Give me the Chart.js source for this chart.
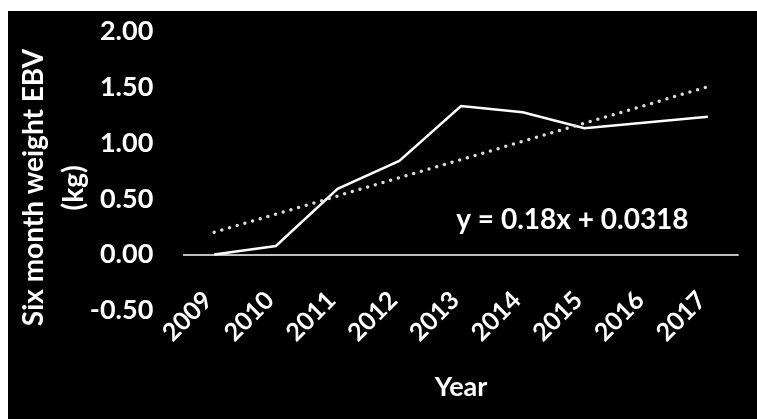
<!DOCTYPE html>
<html>
<head>
<meta charset="utf-8">
<title>Six month weight EBV by year</title>
<script src="https://cdn.jsdelivr.net/npm/chart.js@4.4.1/dist/chart.umd.min.js"></script>
<style>
  html, body { margin: 0; padding: 0; background: #ffffff; }
  #wrap { position: absolute; left: 8px; top: 11px; width: 749px; height: 408px; background: #000000; }
  canvas { display: block; }
</style>
</head>
<body>
<div id="wrap"><canvas id="chart" width="749" height="408"></canvas></div>
<script>
// Breeding values by year
const years = ['2009', '2010', '2011', '2012', '2013', '2014', '2015', '2016', '2017'];
const ebv = [0.00, 0.076, 0.59, 0.84, 1.333, 1.276, 1.133, 1.185, 1.237];

// Axis settings and text
const yMin = -0.5;
const yMax = 2.0;
const yStep = 0.5;
const xTitle = 'Year';
const yTitle = ['Six month weight EBV', '(kg)'];
const equationLabel = 'y = 0.18x + 0.0318';

// Linear least-squares trend of the EBV series (x = 1..n, as in a spreadsheet trendline)
function linearTrend(values) {
  const n = values.length;
  let sx = 0, sy = 0, sxy = 0, sxx = 0;
  values.forEach((v, i) => {
    const x = i + 1;
    sx += x; sy += v; sxy += x * v; sxx += x * x;
  });
  const slope = (n * sxy - sx * sy) / (n * sxx - sx * sx);
  const intercept = (sy - slope * sx) / n;
  return values.map((_, i) => intercept + slope * (i + 1));
}
const trend = linearTrend(ebv);

const FONT = 'Lato';
Chart.defaults.font.family = FONT;
Chart.defaults.font.weight = 'bold';
Chart.defaults.color = '#ffffff';

// Trendline equation text
const equationPlugin = {
  id: 'equationText',
  afterDatasetsDraw(chart) {
    const { ctx, scales: { x, y } } = chart;
    ctx.save();
    ctx.font = 'bold 28px ' + FONT;
    ctx.fillStyle = '#ffffff';
    ctx.textAlign = 'center';
    ctx.textBaseline = 'middle';
    ctx.fillText(equationLabel, x.getPixelForValue(5.806), y.getPixelForValue(0.31));
    ctx.restore();
  }
};

// Spacing that keeps the rotated axis title centred a little lower than the plot middle
const pad = '\u00A0\u00A0\u00A0\u00A0\u00A0';

new Chart(document.getElementById('chart'), {
  type: 'line',
  data: {
    labels: years,
    datasets: [
      {
        label: 'Linear trend',
        data: trend,
        borderColor: '#dcdcdc',
        borderWidth: 3.5,
        borderDash: [0, 8],
        borderCapStyle: 'round',
        pointRadius: 0,
        tension: 0,
        fill: false,
        order: 0
      },
      {
        label: 'EBV',
        data: ebv,
        borderColor: '#ffffff',
        borderWidth: 2.5,
        pointRadius: 0,
        tension: 0,
        fill: false,
        order: 1
      }
    ]
  },
  options: {
    responsive: false,
    devicePixelRatio: 1,
    animation: false,
    layout: { padding: { left: 0, right: 18.3, top: 20.7, bottom: 0 } },
    plugins: {
      legend: { display: false },
      tooltip: { enabled: false },
      title: {
        display: true,
        text: xTitle,
        position: 'bottom',
        fullSize: false,
        color: '#ffffff',
        font: { family: FONT, size: 27, weight: 'bold', lineHeight: 1.2 },
        padding: { top: 60.6, bottom: 15.8 }
      }
    },
    scales: {
      x: {
        type: 'category',
        // year labels hang just under the zero line
        position: { y: -0.1 },
        offset: true,
        grid: { display: false, drawTicks: false },
        border: { display: false },
        ticks: {
          color: '#ffffff',
          font: { family: FONT, size: 25, weight: 'bold', lineHeight: 1.2 },
          minRotation: 45,
          maxRotation: 45,
          autoSkip: false,
          padding: 19.9,
          labelOffset: -6
        }
      },
      y: {
        min: yMin,
        max: yMax,
        grid: {
          display: true,
          drawOnChartArea: true,
          drawTicks: true,
          tickLength: 26,
          tickColor: 'rgba(0,0,0,0)',
          // only the zero line is visible
          color: (ctx) => (ctx.tick && ctx.tick.value === 0 ? '#bfbfbf' : 'rgba(0,0,0,0)'),
          lineWidth: 2
        },
        border: { display: false },
        afterFit: (scale) => { scale.width = 175.3; },
        ticks: {
          stepSize: yStep,
          padding: 4,
          color: '#ffffff',
          font: { family: FONT, size: 27, weight: 'bold' },
          callback: (v) => Number(v).toFixed(2)
        },
        title: {
          display: true,
          text: yTitle.map((t) => t + pad),
          color: '#ffffff',
          font: { family: FONT, size: 28, weight: 'bold', lineHeight: 1.41 },
          padding: { top: 6.25, bottom: 0 }
        }
      }
    }
  },
  plugins: [equationPlugin]
});
</script>
</body>
</html>
